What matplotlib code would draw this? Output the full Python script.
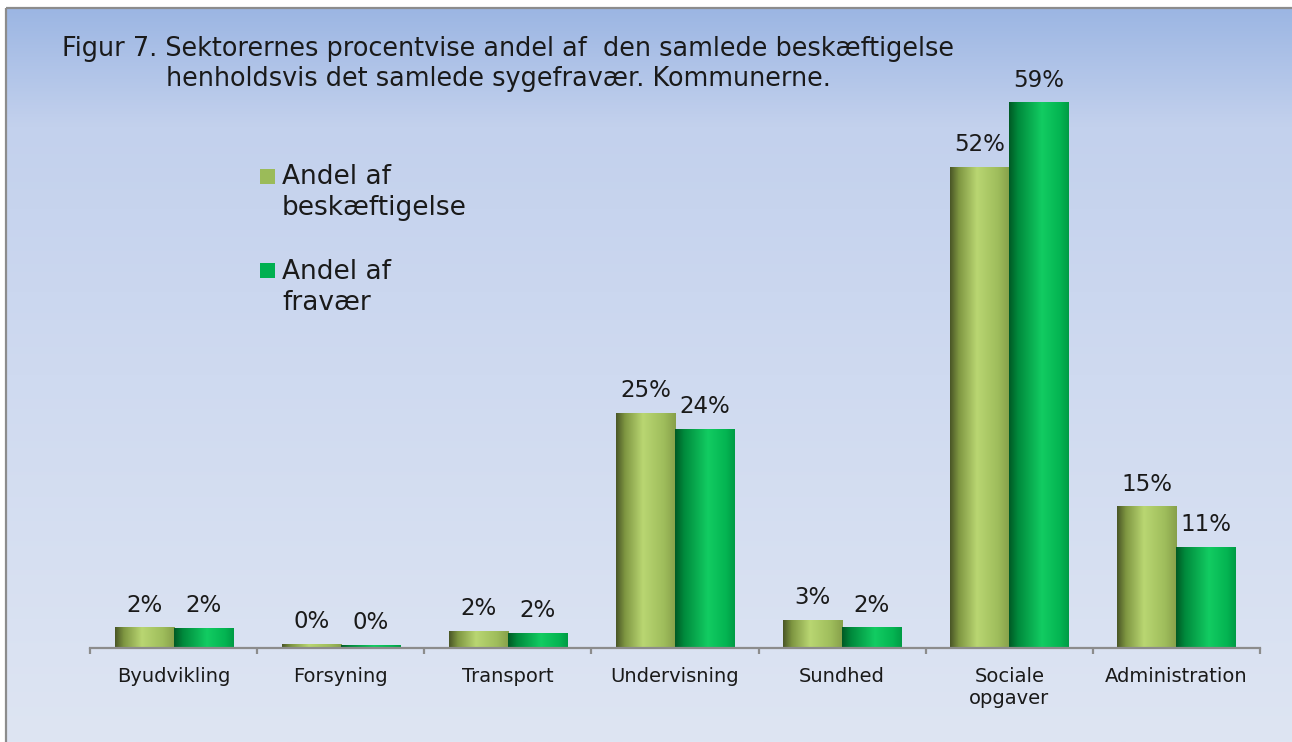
import numpy as np
import matplotlib
matplotlib.use('Agg')
import matplotlib.pyplot as plt
from matplotlib.colors import LinearSegmentedColormap
from matplotlib.patches import Rectangle

# Data
sektorer = ['Byudvikling', 'Forsyning', 'Transport', 'Undervisning', 'Sundhed',
            'Sociale\nopgaver', 'Administration']
andel_beskaeftigelse = [2.2, 0.4, 1.8, 25.4, 3.0, 52.0, 15.3]  # procent
andel_fravaer = [2.1, 0.3, 1.6, 23.7, 2.2, 59.0, 10.9]  # procent
serie_navne = ['Andel af\nbeskæftigelse', 'Andel af\nfravær']
titel_linje1 = 'Figur 7. Sektorernes procentvise andel af  den samlede beskæftigelse'
titel_linje2 = 'henholdsvis det samlede sygefravær. Kommunerne.'

W, H = 1292, 742
plt.rcParams['font.family'] = ['DejaVu Sans']
fig = plt.figure(figsize=(W / 100, H / 100), dpi=100)


def fx(px):
    return px / W


def fy(py):
    return 1 - py / H


# Baggrund med gradient
bg = fig.add_axes([0, 0, 1, 1], zorder=-5)
bg.set_xlim(0, W)
bg.set_ylim(H, 0)
bg.axis('off')
bg_cmap = LinearSegmentedColormap.from_list(
    'bg', [(0.0, '#9cb6e3'), (0.16, '#c3d1ed'), (0.5, '#cfdaf0'), (1.0, '#dee5f3')])
grad = np.linspace(0, 1, 256).reshape(-1, 1)
bg.imshow(grad, extent=[6, W + 2, H, 8], cmap=bg_cmap, aspect='auto', origin='upper')
bg.add_patch(Rectangle((6, 8), W, H, fill=False, edgecolor='#8c8c8c', linewidth=1.6))

# Hovedakse
base_y = 648
top_y = 60
px_per_pct = 9.24
ax = fig.add_axes([fx(90), fy(base_y), fx(1260) - fx(90), (base_y - top_y) / H])
ax.patch.set_alpha(0)

x = np.arange(len(sektorer))
w = 0.353

cmap1 = LinearSegmentedColormap.from_list(
    'g1', [(0.0, '#4a5627'), (0.15, '#7f9742'), (0.45, '#b9d672'), (0.8, '#9fbd5c'), (1.0, '#87a04a')])
cmap2 = LinearSegmentedColormap.from_list(
    'g2', [(0.0, '#005a25'), (0.15, '#008a3c'), (0.55, '#12cc62'), (0.85, '#04b552'), (1.0, '#009c45')])

hgrad = np.linspace(0, 1, 200).reshape(1, -1)
for vals, offset, cmap in [(andel_beskaeftigelse, -w / 2, cmap1), (andel_fravaer, w / 2, cmap2)]:
    bars = ax.bar(x + offset, vals, w, color='none', edgecolor='none', zorder=2)
    for b in bars:
        x0 = b.get_x()
        ax.imshow(hgrad, extent=[x0, x0 + b.get_width(), 0, b.get_height()],
                  cmap=cmap, aspect='auto', zorder=2, interpolation='bilinear')
    ax.bar_label(bars, labels=[f'{v:.0f}%' for v in vals], padding=8,
                 fontsize=16.5, color='#1a1a1a')

ax.set_xlim(-0.5, len(sektorer) - 0.5)
ax.set_ylim(0, (base_y - top_y) / px_per_pct)

for s in ['top', 'left', 'right']:
    ax.spines[s].set_visible(False)
ax.spines['bottom'].set_color('#8c8c8c')
ax.spines['bottom'].set_linewidth(1.6)
ax.spines['bottom'].set_zorder(3)
ax.set_yticks([])
ax.set_xticks(x)
ax.set_xticklabels(sektorer, fontsize=14, color='#1a1a1a')
ax.set_xticks(np.arange(-0.5, len(sektorer)), minor=True)
ax.tick_params(axis='x', which='major', length=0, pad=14)
ax.tick_params(axis='x', which='minor', length=4, width=1.6, color='#8c8c8c', direction='out')

# Titel
fig.text(fx(62), fy(36), titel_linje1, fontsize=18.4, color='#1a1a1a', ha='left', va='top')
fig.text(fx(166), fy(66), titel_linje2, fontsize=18.4, color='#1a1a1a', ha='left', va='top')

# Forklaring
for navn, farve, sq_y, txt_y in [(serie_navne[0], '#9bbb59', 169, 164),
                                  (serie_navne[1], '#00b050', 263, 259)]:
    fig.add_artist(Rectangle((fx(260), fy(sq_y + 15)), 15 / W, 15 / H,
                             transform=fig.transFigure, facecolor=farve, edgecolor='none'))
    fig.text(fx(282), fy(txt_y), navn, fontsize=19, color='#1a1a1a', ha='left', va='top',
             linespacing=1.25)

fig.savefig('out.png', dpi=100)
